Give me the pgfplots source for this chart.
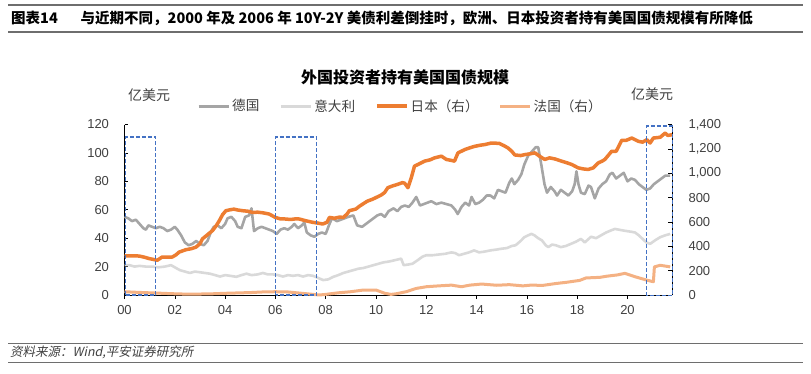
\documentclass[border=0pt]{standalone}
\usepackage{pgfplots}
\pgfplotsset{compat=1.18}
\usepackage{fontspec}
\setmainfont{Noto Sans CJK SC}
\newfontfamily\arial{Liberation Sans}
\newfontfamily\cjkit[FakeSlant=0.2]{Noto Sans CJK SC}
\definecolor{ger}{HTML}{A5A5A5}
\definecolor{ita}{HTML}{D9D9D9}
\definecolor{jpn}{HTML}{ED7D31}
\definecolor{fra}{HTML}{F4B183}
\definecolor{boxb}{HTML}{4472C4}
\definecolor{txt}{HTML}{404040}
\definecolor{rule}{HTML}{6E6E6E}

\pgfplotstableread{
x y
2000.00 55
2000.15 54
2000.30 52
2000.45 53
2000.60 50
2000.75 47
2000.85 46
2000.95 49
2001.10 48
2001.25 47
2001.40 48
2001.55 47
2001.70 45
2001.85 46
2002.00 48
2002.10 46
2002.25 42
2002.40 37
2002.55 35
2002.70 36
2002.85 38
2003.00 36
2003.15 35
2003.30 38
2003.45 45
2003.55 48
2003.70 49
2003.85 47
2004.00 50
2004.10 54
2004.25 55
2004.40 52
2004.50 48
2004.65 47
2004.80 55
2004.95 56
2005.05 61
2005.15 45
2005.30 47
2005.45 48
2005.60 47
2005.75 46
2005.90 45
2006.05 43
2006.20 46
2006.35 47
2006.50 46
2006.65 48
2006.75 50
2006.90 47
2007.05 49
2007.15 51
2007.25 44
2007.40 42
2007.55 41
2007.70 43
2007.85 44
2008.00 43
2008.15 50
2008.25 54
2008.45 52
2008.60 53
2008.75 54
2008.90 55
2009.10 56
2009.25 49
2009.45 48
2009.60 50
2009.75 52
2009.90 54
2010.05 56
2010.20 57
2010.35 55
2010.50 59
2010.70 61
2010.85 59
2011.00 62
2011.15 63
2011.30 62
2011.45 65
2011.60 69
2011.75 63
2011.90 64
2012.05 65
2012.20 66
2012.40 64
2012.60 65
2012.80 64
2013.00 63
2013.15 60
2013.25 57
2013.40 62
2013.55 65
2013.70 63
2013.80 69
2013.95 64
2014.10 65
2014.25 67
2014.40 70
2014.55 70
2014.70 68
2014.85 74
2015.00 73
2015.15 72
2015.30 79
2015.40 82
2015.50 78
2015.65 81
2015.78 85
2015.90 92
2016.05 98
2016.20 101
2016.35 104
2016.45 104
2016.58 91
2016.70 78
2016.80 72
2016.95 76
2017.10 73
2017.20 70
2017.35 74
2017.50 72
2017.65 70
2017.80 73
2017.90 78
2017.97 87
2018.05 78
2018.15 72
2018.30 71
2018.45 77
2018.55 76
2018.70 68
2018.85 75
2019.00 78
2019.15 80
2019.30 85
2019.40 86
2019.55 82
2019.70 84
2019.85 86
2020.00 80
2020.15 82
2020.30 81
2020.45 78
2020.60 76
2020.75 74
2020.90 75
2021.05 78
2021.20 80
2021.35 82
2021.50 84
2021.70 84
}\germany

\pgfplotstableread{
x y
2000.00 21
2000.20 21
2000.40 20
2000.60 20.5
2000.85 20
2001.10 20
2001.35 19.5
2001.60 20
2001.85 21
2002.05 19
2002.20 17.5
2002.40 16.5
2002.60 15.5
2002.80 16.5
2003.00 16
2003.20 15.5
2003.40 15
2003.60 14
2003.80 13
2004.00 14
2004.20 13.5
2004.45 12.8
2004.65 14
2004.85 15
2005.05 14
2005.30 14.5
2005.50 15.5
2005.70 14.5
2005.90 14.5
2006.10 14
2006.30 13
2006.50 14
2006.70 13.5
2006.90 14
2007.10 13
2007.30 14
2007.50 13.5
2007.70 12
2007.90 10.5
2008.10 11
2008.30 12.8
2008.50 14
2008.70 15.5
2008.90 16.5
2009.10 17.5
2009.30 18.5
2009.50 19
2009.70 20
2009.90 21
2010.10 22
2010.30 23
2010.50 23.5
2010.75 24.5
2011.00 25.6
2011.10 21
2011.30 21.5
2011.45 22
2011.65 24.4
2011.85 27
2012.00 28
2012.25 28
2012.50 28.5
2012.75 29
2013.00 30
2013.15 29.5
2013.30 28
2013.50 29
2013.70 30
2013.90 31.4
2014.10 30
2014.30 30.5
2014.55 31.4
2014.80 32
2015.00 32.6
2015.20 33
2015.40 34.5
2015.55 35
2015.75 38
2015.90 40.7
2016.05 42
2016.18 43
2016.30 42
2016.45 40
2016.60 38.4
2016.75 35
2016.85 33.7
2017.00 35.5
2017.15 35
2017.35 33.7
2017.55 34.5
2017.75 36
2017.95 37.5
2018.15 39.5
2018.30 37
2018.55 41
2018.75 40
2018.95 42
2019.15 44
2019.35 45.5
2019.50 46.5
2019.65 46
2019.80 45.5
2019.97 45
2020.15 44.5
2020.30 44
2020.45 42
2020.60 39.5
2020.75 37
2020.90 36
2021.10 38.5
2021.30 40.7
2021.50 42
2021.70 43
}\italy

\pgfplotstableread{
x y
2000.00 320
2000.30 322
2000.58 320
2000.80 310
2000.98 299
2001.15 292
2001.30 285
2001.50 312
2001.70 310
2001.90 312
2002.05 330
2002.17 352
2002.44 372
2002.65 380
2002.84 393
2003.00 420
2003.10 461
2003.30 495
2003.50 529
2003.65 570
2003.77 610
2003.90 660
2004.03 692
2004.20 700
2004.35 705
2004.50 698
2004.70 692
2004.90 688
2005.10 678
2005.30 680
2005.50 675
2005.75 665
2006.00 637
2006.20 625
2006.40 624
2006.60 620
2006.80 625
2006.95 624
2007.20 610
2007.48 597
2007.70 590
2007.88 583
2008.05 597
2008.15 637
2008.35 630
2008.55 640
2008.70 637
2008.85 665
2008.94 692
2009.20 706
2009.35 730
2009.47 746
2009.65 770
2009.87 787
2010.00 800
2010.20 820
2010.34 841
2010.47 881
2010.65 895
2010.87 909
2011.05 923
2011.14 918
2011.27 881
2011.40 960
2011.53 1058
2011.70 1075
2011.93 1099
2012.15 1110
2012.33 1126
2012.60 1140
2012.80 1113
2013.00 1105
2013.12 1099
2013.26 1167
2013.53 1194
2013.75 1210
2013.93 1221
2014.15 1230
2014.32 1235
2014.59 1248
2014.90 1245
2015.10 1225
2015.25 1207
2015.40 1180
2015.52 1150
2015.75 1145
2015.92 1153
2016.15 1160
2016.32 1167
2016.50 1140
2016.71 1113
2016.90 1126
2017.10 1118
2017.38 1099
2017.60 1085
2017.78 1072
2018.04 1044
2018.25 1035
2018.44 1031
2018.64 1044
2018.84 1085
2019.00 1100
2019.10 1113
2019.25 1150
2019.37 1180
2019.55 1180
2019.77 1270
2019.95 1270
2020.17 1289
2020.43 1262
2020.60 1255
2020.77 1275
2020.90 1248
2021.03 1289
2021.30 1295
2021.50 1330
2021.60 1310
2021.77 1316
}\japan

\pgfplotstableread{
x y
2000.00 27
2000.50 22
2001.00 18
2001.50 14
2002.00 10
2002.50 7
2003.00 8
2003.50 10
2004.00 14
2004.50 17
2005.00 20
2005.50 25
2006.00 27
2006.50 25
2007.00 15
2007.40 7
2007.75 0
2008.00 5
2008.50 18
2009.00 27
2009.50 41
2010.00 41
2010.35 14
2010.60 5
2010.80 10
2011.20 27
2011.60 54
2012.00 68
2012.50 75
2013.00 81
2013.40 68
2013.73 81
2014.20 90
2014.80 80
2015.30 85
2015.84 75
2016.20 82
2016.60 78
2017.18 95
2017.60 105
2018.10 120
2018.35 140
2018.90 145
2019.20 155
2019.60 165
2019.90 178
2020.30 150
2020.77 122
2021.03 109
2021.07 231
2021.30 244
2021.70 231
}\france

\begin{document}
\begin{tikzpicture}[x=1pt,y=1pt]
\useasboundingbox (0pt,0pt) rectangle (811pt,373pt);
% header
\draw[rule, line width=1.2pt] (8pt,368pt) -- (803pt,368pt);
\draw[rule, line width=1.2pt] (8pt,341pt) -- (803pt,341pt);
\node[anchor=west, inner sep=0, font=\bfseries\fontsize{14.5}{15}\selectfont] at (11pt,355pt) {图表14};
\node[anchor=west, inner sep=0, font=\bfseries\fontsize{14.5}{15}\selectfont] at (80.5pt,355pt) {与近期不同，2000 年及 2006 年 10Y-2Y 美债利差倒挂时，欧洲、日本投资者持有美国国债规模有所降低};
% footer
\draw[rule, line width=1pt] (8pt,29.7pt) -- (803pt,29.7pt);
\draw[rule, line width=1pt] (8pt,10.7pt) -- (803pt,10.7pt);
\node[anchor=west, inner sep=0, font=\cjkit\fontsize{12.5}{13}\selectfont, text=txt] at (10pt,20.5pt) {资料来源：Wind,平安证券研究所};
% chart title and units
\node[font=\bfseries\fontsize{16}{16}\selectfont, text=black] at (405pt,296pt) {外国投资者持有美国国债规模};
\node[font=\fontsize{14}{14}\selectfont, text=txt] at (149pt,278pt) {亿美元};
\node[font=\fontsize{14}{14}\selectfont, text=txt] at (652pt,279pt) {亿美元};

\begin{axis}[
  at={(124.5pt,78pt)}, anchor=south west, scale only axis,
  width=547.5pt, height=170.5pt,
  xmin=2000, xmax=2021.77, ymin=0, ymax=120,
  axis x line*=bottom, axis y line*=left,
  axis line style={black, line width=0.7pt},
  xtick={2000,2002,2004,2006,2008,2010,2012,2014,2016,2018,2020},
  xticklabels={00,02,04,06,08,10,12,14,16,18,20},
  ytick={0,20,40,60,80,100,120},
  x tick label style={font=\arial\fontsize{13}{13}\selectfont, text=txt, yshift=-3pt},
  y tick label style={font=\arial\fontsize{13}{13}\selectfont, text=txt, xshift=-12pt},
  /pgf/number format/assume math mode=true,
  xtick align=outside, ytick align=inside,
  major tick length=4pt,
  tick style={black, line width=0.6pt},
  clip=false,
]
\addplot[ger, line width=2.6pt, line join=round] table[x=x,y=y] {\germany};
\addplot[ita, line width=2.6pt, line join=round] table[x=x,y=y] {\italy};
\end{axis}

\begin{axis}[
  at={(124.5pt,78pt)}, anchor=south west, scale only axis,
  width=547.5pt, height=170.5pt,
  xmin=2000, xmax=2021.77, ymin=0, ymax=1400,
  axis x line=none, axis y line*=right,
  axis line style={black, line width=0.7pt},
  ytick={0,200,400,600,800,1000,1200,1400},
  y tick label style={font=\arial\fontsize{13}{13}\selectfont, text=txt, xshift=13pt},
  /pgf/number format/assume math mode=true,
  /pgf/number format/1000 sep={,},
  ytick align=inside, major tick length=4pt,
  tick style={black, line width=0.6pt},
  clip=false,
  legend columns=4,
  legend style={at={(0.1324,1.1085)}, anchor=west, draw=none, fill=none,
    inner xsep=0pt, inner ysep=0pt,
    font=\fontsize{13.6}{14}\selectfont, text=txt,
    /tikz/every even column/.append style={column sep=18pt}},
  legend image code/.code={\draw[#1] (0pt,0pt) -- (30pt,0pt);},
]
\addlegendimage{ger, line width=3pt}
\addlegendentry{德国}
\addlegendimage{ita, line width=3pt}
\addlegendentry{意大利}
\addplot[jpn, line width=3.5pt, line join=round] table[x=x,y=y] {\japan};
\addlegendentry{日本（右）}
\addplot[fra, line width=3pt, line join=round] table[x=x,y=y] {\france};
\addlegendentry{法国（右）}
\addplot[boxb, line width=1.3pt, dash pattern=on 4pt off 2pt, forget plot] coordinates {(2000.05,0) (2000.05,1297) (2001.24,1297) (2001.24,0) (2000.05,0)};
\addplot[boxb, line width=1.3pt, dash pattern=on 4pt off 2pt, forget plot] coordinates {(2006.01,0) (2006.01,1297) (2007.64,1297) (2007.64,0) (2006.01,0)};
\addplot[boxb, line width=1.3pt, dash pattern=on 4pt off 2pt, forget plot] coordinates {(2020.76,-5) (2020.76,1388) (2021.79,1388) (2021.79,-5) (2020.76,-5)};
\end{axis}
\end{tikzpicture}
\end{document}
